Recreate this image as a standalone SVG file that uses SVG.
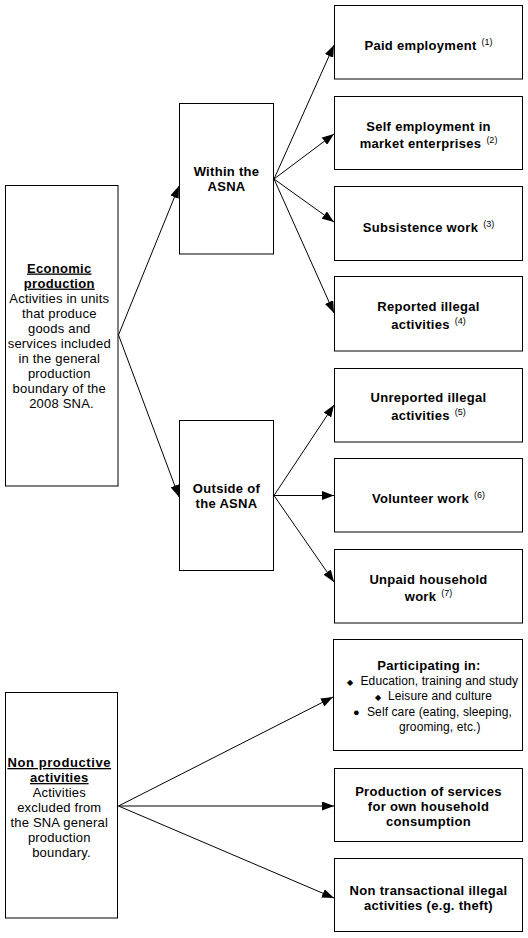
<svg xmlns="http://www.w3.org/2000/svg" width="528" height="938" viewBox="0 0 528 938">
<style>
.box{fill:#fff;stroke:#000;stroke-width:1}
.t{font-family:"Liberation Sans",Arial,sans-serif;fill:#000}
.b{font-weight:bold;font-size:13px;letter-spacing:0.3px}
.r{font-size:13px;letter-spacing:0.2px}
.s{font-size:12px;letter-spacing:0.1px}
.sup{font-size:9px;font-weight:normal;letter-spacing:0}
.c{text-anchor:middle}
.ln{stroke:#000;stroke-width:1;fill:none}
</style>
<defs>
<marker id="ah" markerWidth="12" markerHeight="9" refX="12" refY="4.5" orient="auto" markerUnits="userSpaceOnUse">
<path d="M0,0 L12,4.5 L0,9 z" fill="#000"/>
</marker>
</defs>
<rect width="528" height="938" fill="#fff"/>
<g id="connectors" class="ln" marker-end="url(#ah)">
<path d="M118.5,335 L179,186"/>
<path d="M118.5,335 L179,497"/>
<path d="M274,179 L334,45"/>
<path d="M274,179 L334,134"/>
<path d="M274,179 L334,222"/>
<path d="M274,179 L334,313"/>
<path d="M274,495.5 L334,405"/>
<path d="M274,495.5 L334,495.5"/>
<path d="M274,495.5 L334,582"/>
<path d="M118.5,806 L333,697"/>
<path d="M118.5,806 L334,806"/>
<path d="M118.5,806 L334,898"/>
</g>
<g id="economic">
<rect class="box" x="5.5" y="185.5" width="112.5" height="300.5"/>
<text class="t c" x="61.5">
<tspan class="b" x="61.5" y="272.5" text-decoration="underline">Economic</tspan>
<tspan class="b" x="61.5" y="287.6" text-decoration="underline">production</tspan>
<tspan class="r" x="61.5" y="302.7">Activities in units</tspan>
<tspan class="r" x="61.5" y="317.8">that produce</tspan>
<tspan class="r" x="61.5" y="332.9">goods and</tspan>
<tspan class="r" x="61.5" y="348">services included</tspan>
<tspan class="r" x="61.5" y="363.1">in the general</tspan>
<tspan class="r" x="61.5" y="378.2">production</tspan>
<tspan class="r" x="61.5" y="393.3">boundary of the</tspan>
<tspan class="r" x="61.5" y="408.4">2008 SNA.</tspan>
</text>
</g>
<g id="within">
<rect class="box" x="179.5" y="103.5" width="94" height="150.5"/>
<text class="t b c"><tspan x="226.5" y="176">Within the</tspan><tspan x="226.5" y="191">ASNA</tspan></text>
</g>
<g id="outside">
<rect class="box" x="179.5" y="420.5" width="94" height="150"/>
<text class="t b c"><tspan x="226.5" y="493">Outside of</tspan><tspan x="226.5" y="508">the ASNA</tspan></text>
</g>
<g id="paid">
<rect class="box" x="334.5" y="5.5" width="188" height="73.5"/>
<text class="t b c" x="428.5" y="50">Paid employment<tspan class="sup" dx="5" dy="-5">(1)</tspan></text>
</g>
<g id="self">
<rect class="box" x="334.5" y="96.5" width="188" height="73"/>
<text class="t b c" x="428.5" y="130.5">Self employment in</text>
<text class="t b c" x="428.5" y="147.5">market enterprises<tspan class="sup" dx="5" dy="-5">(2)</tspan></text>
</g>
<g id="subsistence">
<rect class="box" x="334.5" y="186.5" width="188" height="74"/>
<text class="t b c" x="428.5" y="231.5">Subsistence work<tspan class="sup" dx="5" dy="-5">(3)</tspan></text>
</g>
<g id="reported">
<rect class="box" x="334.5" y="276.5" width="188" height="74.5"/>
<text class="t b c" x="428.5" y="311">Reported illegal</text>
<text class="t b c" x="428.5" y="329">activities<tspan class="sup" dx="5" dy="-5">(4)</tspan></text>
</g>
<g id="unreported">
<rect class="box" x="334.5" y="368.5" width="188" height="73.5"/>
<text class="t b c" x="428.5" y="402">Unreported illegal</text>
<text class="t b c" x="428.5" y="420">activities<tspan class="sup" dx="5" dy="-5">(5)</tspan></text>
</g>
<g id="volunteer">
<rect class="box" x="334.5" y="458.5" width="188" height="73.5"/>
<text class="t b c" x="428.5" y="503">Volunteer work<tspan class="sup" dx="5" dy="-5">(6)</tspan></text>
</g>
<g id="unpaid">
<rect class="box" x="334.5" y="549.5" width="188" height="73.5"/>
<text class="t b c" x="428.5" y="584">Unpaid household</text>
<text class="t b c" x="428.5" y="601">work<tspan class="sup" dx="5" dy="-5">(7)</tspan></text>
</g>
<g id="participating">
<rect class="box" x="333.5" y="639.5" width="189" height="111"/>
<text class="t b c" x="429" y="670">Participating in:</text>
<text class="t" font-size="8" x="346.5" y="684.5">◆</text>
<text class="t s" x="360.5" y="685">Education, training and study</text>
<text class="t" font-size="8" x="374.5" y="700">◆</text>
<text class="t s" x="388" y="700">Leisure and culture</text>
<text class="t" font-size="11" x="353" y="716" font-family="DejaVu Sans,sans-serif">●</text>
<text class="t s" x="367" y="716">Self care (eating, sleeping,</text>
<text class="t s" x="399" y="731">grooming, etc.)</text>
</g>
<g id="production">
<rect class="box" x="334.5" y="768.5" width="188" height="73"/>
<text class="t b c"><tspan x="428.5" y="796">Production of services</tspan><tspan x="428.5" y="811">for own household</tspan><tspan x="428.5" y="826">consumption</tspan></text>
</g>
<g id="nontransactional">
<rect class="box" x="334.5" y="858.5" width="188" height="73"/>
<text class="t b c"><tspan x="428.5" y="895">Non transactional illegal</tspan><tspan x="428.5" y="910">activities (e.g. theft)</tspan></text>
</g>
<g id="nonproductive">
<rect class="box" x="5.5" y="692.5" width="112" height="225.5"/>
<text class="t c">
<tspan class="b" x="61.5" y="767" text-decoration="underline" style="letter-spacing:0.6px">Non productive</tspan>
<tspan class="b" x="61.5" y="782" text-decoration="underline">activities</tspan>
<tspan class="r" x="61.5" y="797">Activities</tspan>
<tspan class="r" x="61.5" y="812">excluded from</tspan>
<tspan class="r" x="61.5" y="827">the SNA general</tspan>
<tspan class="r" x="61.5" y="842">production</tspan>
<tspan class="r" x="61.5" y="857">boundary.</tspan>
</text>
</g>
</svg>
